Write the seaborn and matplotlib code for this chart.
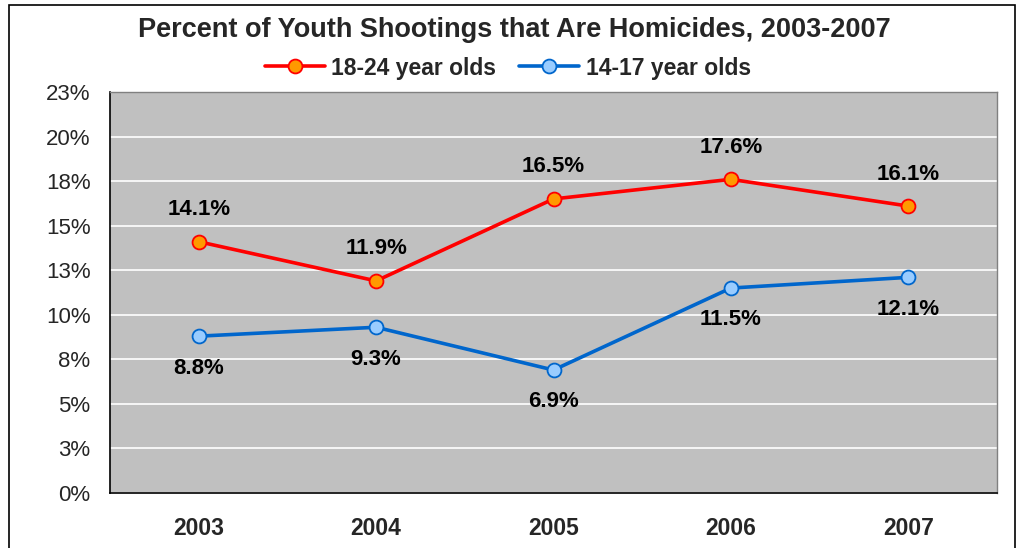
import matplotlib
matplotlib.use("Agg")
import matplotlib.pyplot as plt
import matplotlib.patches as mpatches
from matplotlib.ticker import FuncFormatter, MultipleLocator
import seaborn as sns
import pandas as pd
import numpy as np
from decimal import Decimal, ROUND_HALF_UP

years = ["2003", "2004", "2005", "2006", "2007"]
older = [14.1, 11.9, 16.5, 17.6, 16.1]
younger = [8.8, 9.3, 6.9, 11.5, 12.1]
series_names = ["18-24 year olds", "14-17 year olds"]

sns.set_theme(style="white")
plt.rcParams["font.family"] = ["Liberation Sans", "DejaVu Sans"]

fig = plt.figure(figsize=(10.22, 5.48), dpi=100)
ax = fig.add_axes([110 / 1022, 55 / 548, 887 / 1022, 401 / 548])
ax.set_facecolor("#C0C0C0")

df = pd.DataFrame({
    "pos": list(range(len(years))) * 2,
    "value": older + younger,
    "series": [series_names[0]] * len(years) + [series_names[1]] * len(years),
})

styles = {
    series_names[0]: dict(color="#FF0000", mfc="#FF9900", mec="#FF0000"),
    series_names[1]: dict(color="#0066CC", mfc="#99CCFF", mec="#0066CC"),
}
for name in series_names:
    st = styles[name]
    sns.lineplot(data=df[df["series"] == name], x="pos", y="value", ax=ax,
                 color=st["color"], linewidth=2.6, marker="o", markersize=10,
                 markerfacecolor=st["mfc"], markeredgecolor=st["mec"],
                 markeredgewidth=1.3, label=name, zorder=3)

# data labels: above for the older group, below for the younger group
for i, v in enumerate(older):
    ax.annotate(f"{v:.1f}%", (i, v), xytext=(0, 23), textcoords="offset points",
                ha="center", va="center", fontsize=16, fontweight="bold", color="black")
for i, v in enumerate(younger):
    ax.annotate(f"{v:.1f}%", (i, v), xytext=(0, -23), textcoords="offset points",
                ha="center", va="center", fontsize=16, fontweight="bold", color="black")

ax.set_xlim(-0.5, len(years) - 0.5)
ax.set_ylim(0, 22.5)
ax.yaxis.set_major_locator(MultipleLocator(2.5))


def pct(v, _):
    return f"{int(Decimal(str(v)).quantize(Decimal('1'), rounding=ROUND_HALF_UP))}%"


ax.yaxis.set_major_formatter(FuncFormatter(pct))
ax.grid(axis="y", color="white", linewidth=1.2)
ax.set_axisbelow(True)

ax.set_xticks(np.arange(len(years)))
ax.set_xticklabels(years, fontsize=16.5, fontweight="bold")
ax.set_xticks(np.arange(-0.5, len(years)), minor=True)
ax.tick_params(axis="x", which="major", length=0, pad=17)
ax.tick_params(axis="x", which="minor", length=6, width=1, color="black", direction="out")
ax.tick_params(axis="y", length=6, width=1, color="black", direction="out", labelsize=16, pad=8)
ax.set_xlabel("")
ax.set_ylabel("")

for side in ["left", "bottom"]:
    ax.spines[side].set_color("black")
    ax.spines[side].set_linewidth(1.2)
for side in ["top", "right"]:
    ax.spines[side].set_color("#808080")
    ax.spines[side].set_linewidth(1.0)

handles, labels = ax.get_legend_handles_labels()
ax.get_legend().remove()
fig.legend(handles, labels, loc="center", bbox_to_anchor=(0.497, 1 - 68 / 548), ncol=2,
           frameon=False, prop={"weight": "bold", "size": 16.5}, handlelength=2.6,
           handletextpad=0.3, columnspacing=1.0)

fig.text(0.503, 1 - 30 / 548, "Percent of Youth Shootings that Are Homicides, 2003-2007",
         ha="center", va="center", fontsize=19.5, fontweight="bold")

fig.patches.append(mpatches.Rectangle((9 / 1022, -0.05), 1006 / 1022, 1.05 - 5 / 548,
                                      transform=fig.transFigure, fill=False,
                                      edgecolor="black", linewidth=1.2))

fig.savefig("out.png", dpi=100, facecolor="white")
